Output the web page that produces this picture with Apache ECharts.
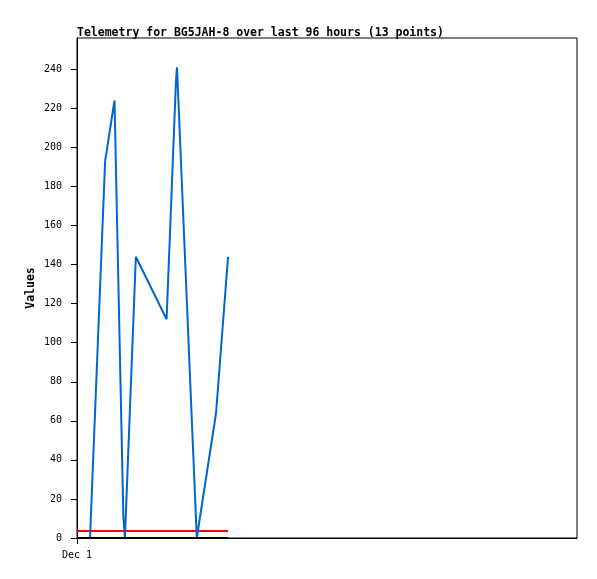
<!DOCTYPE html>
<html><head><meta charset="utf-8">
<script src="https://cdn.jsdelivr.net/npm/echarts@6/dist/echarts.min.js"></script>
<style>html,body{margin:0;padding:0;background:#fff;}#c{width:597px;height:579px;}</style>
</head><body><div id="c"></div>
<script>
// hours after Dec 1 00:00
const hours = [0, 2.5, 5.4, 7.2, 8.9, 9.2, 11.3, 17.2, 19.0, 19.2, 23.0, 26.7, 29.0];
const values = [0, 0, 193, 224, 11, 0, 144, 112, 234, 241, 0, 64, 144];
const thresholdRed = 3.6;
const thresholdBlack = 0;
const yTicks = [0, 20, 40, 60, 80, 100, 120, 140, 160, 180, 200, 220, 240];
const xTicks = [0];
const xTickLabels = ['Dec 1'];

const mono = '"DejaVu Sans Mono", monospace';
const lineData = hours.map((h, i) => [h, values[i]]);
const first = hours[0], last = hours[hours.length - 1];

const chart = echarts.init(document.getElementById('c'));
chart.setOption({
  animation: false,
  backgroundColor: '#fff',
  title: {
    text: 'Telemetry for BG5JAH-8 over last 96 hours (13 points)',
    left: 72, top: 22,
    textStyle: { fontFamily: mono, fontSize: 11.5, fontWeight: 'bold', color: '#000' }
  },
  grid: { left: 77, top: 38, right: 20, bottom: 41, show: true, borderColor: '#000', borderWidth: 1, backgroundColor: '#fff' },
  xAxis: {
    type: 'value', min: 0, max: 96,
    splitLine: { show: false },
    axisLine: { lineStyle: { color: '#000', width: 1 } },
    axisTick: { show: true, customValues: xTicks, length: 6, inside: false, lineStyle: { color: '#000' } },
    axisLabel: {
      customValues: xTicks,
      formatter: v => xTickLabels[xTicks.indexOf(v)] || '',
      fontFamily: mono, fontSize: 10, color: '#000', margin: 12
    }
  },
  yAxis: {
    type: 'value', min: 0, max: 256,
    name: 'Values', nameLocation: 'middle', nameGap: 40, nameRotate: 90, nameMoveOverlap: false,
    nameTextStyle: { fontFamily: mono, fontSize: 11.5, fontWeight: 'bold', color: '#000' },
    splitLine: { show: false },
    axisLine: { show: true, lineStyle: { color: '#000', width: 1 } },
    axisTick: { show: true, customValues: yTicks, length: 6, lineStyle: { color: '#000' } },
    axisLabel: { customValues: yTicks, fontFamily: mono, fontSize: 10, color: '#000', margin: 15 }
  },
  series: [
    { type: 'line', data: [[first, thresholdRed], [last, thresholdRed]], showSymbol: false, silent: true,
      lineStyle: { color: '#ff0000', width: 2 } },
    { type: 'line', data: lineData, showSymbol: false, lineStyle: { color: '#0066cc', width: 2 } },
    { type: 'line', data: [[first, thresholdBlack], [last, thresholdBlack]], showSymbol: false, silent: true,
      lineStyle: { color: '#000', width: 2 } }
  ]
});
</script></body></html>
